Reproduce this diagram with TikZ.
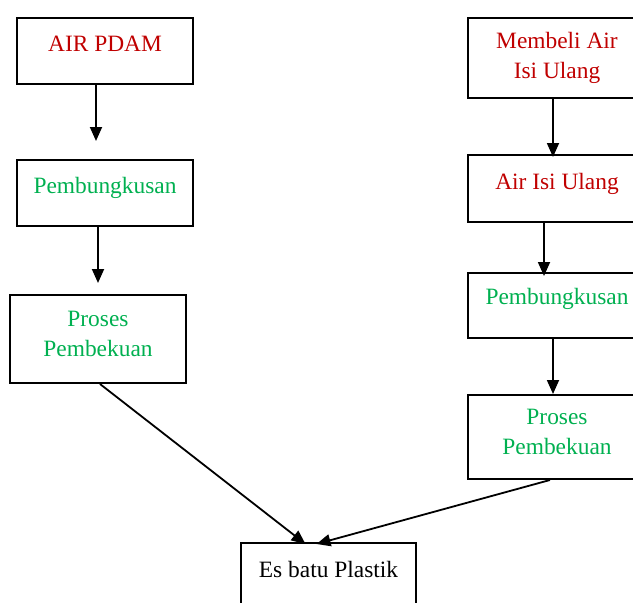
\documentclass[tikz,border=0pt]{standalone}
\usepackage{fontspec}
\setmainfont{Liberation Serif}
\usetikzlibrary{arrows.meta}
\definecolor{darkred}{RGB}{192,0,0}
\definecolor{wordgreen}{RGB}{0,176,80}

\begin{document}
\begin{tikzpicture}[x=1pt,y=-1pt,
  box/.style={draw,line width=2pt,minimum width=176pt,inner xsep=0pt,inner ysep=0pt,
    align=center,anchor=north,font=\fontsize{23.4}{30}\selectfont},
  flow/.style={line width=1.8pt,-{Triangle[length=14pt,width=12pt]}}]
  \useasboundingbox (0,0) rectangle (633,603);
  \clip (0,0) rectangle (633,603);

  % jalur kiri
  \node[box,text=darkred,text height=33pt,text depth=33pt] (pdam) at (105,17) {AIR PDAM};
  \node[box,text=wordgreen,text height=33pt,text depth=33pt] (bungkusL) at (105,159) {Pembungkusan};
  \node[box,text=wordgreen,text height=61pt,text depth=27pt] (bekuL) at (98,294) {Proses\\Pembekuan};

  % jalur kanan
  \node[box,minimum width=178pt,text=darkred,text height=60pt,text depth=20pt] (beli) at (557,17) {Membeli Air\\Isi Ulang};
  \node[box,minimum width=178pt,text=darkred,text height=34pt,text depth=33pt] (isiulang) at (557,154) {Air Isi Ulang};
  \node[box,minimum width=178pt,text=wordgreen,text height=31pt,text depth=34pt] (bungkusR) at (557,272) {Pembungkusan};
  \node[box,minimum width=178pt,text=wordgreen,text height=59pt,text depth=25pt] (bekuR) at (557,394) {Proses\\Pembekuan};

  % hasil
  \node[box,minimum width=175pt,text height=34pt,text depth=40pt] (esbatu) at (328.5,542) {Es batu Plastik};

  \draw[flow,shorten >=18pt] ([xshift=-9pt]pdam.south) -- ([xshift=-9pt]bungkusL.north);
  \draw[flow,shorten >=11pt] ([xshift=-7pt]bungkusL.south) -- (bekuL.north);
  \draw[flow] ([xshift=2pt]bekuL.south) -- ([xshift=-23pt,yshift=-2pt]esbatu.north);

  \draw[flow,shorten >=-3pt] ([xshift=-4pt]beli.south) -- ([xshift=-4pt]isiulang.north);
  \draw[flow,shorten >=-4pt] ([xshift=-13pt]isiulang.south) -- ([xshift=-13pt]bungkusR.north);
  \draw[flow] ([xshift=-4pt]bungkusR.south) -- ([xshift=-4pt]bekuR.north);
  \draw[flow] ([xshift=-7pt]bekuR.south) -- ([xshift=-12pt,yshift=-2pt]esbatu.north);
\end{tikzpicture}
\end{document}
